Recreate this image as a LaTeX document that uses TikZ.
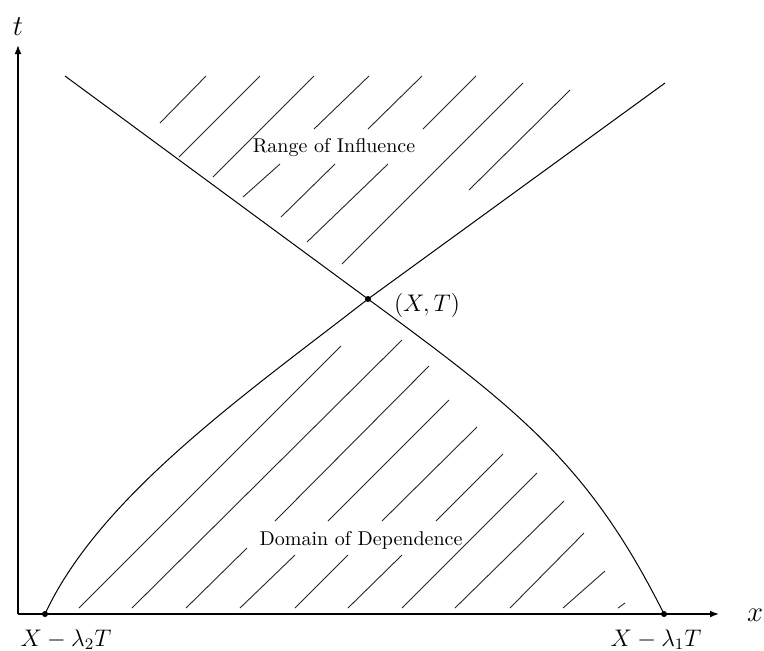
\documentclass[tikz,border=0pt]{standalone}
\usetikzlibrary{arrows.meta}
\begin{document}
\begin{tikzpicture}[x=0.5pt,y=-0.5pt,
  axis/.style={line width=0.65pt,-{Latex[length=4.5pt,width=3.4pt]}},
  bound/.style={line width=0.5pt},
  hatchline/.style={line width=0.45pt,black!85},
  dot/.style={circle,fill,inner sep=0pt,minimum size=3pt},
  mlabel/.style={font=\large,inner sep=0pt,anchor=base},
  axlabel/.style={font=\Large,inner sep=0pt,anchor=base},
  region/.style={inner sep=0pt,anchor=base}]
\useasboundingbox (0,0) rectangle (764,650);
% axes
\coordinate (O) at (18,614);
\coordinate (ytip) at (18,45);
\coordinate (xtip) at (719,614);
\draw[axis] (O) -- (ytip);
\draw[axis] (O) -- (xtip);
% characteristic boundaries
\coordinate (UL) at (65,76);
\coordinate (UR) at (665,83);
\node[dot] (A) at (45,614) {};
\node[dot] (B) at (664,614) {};
\node[dot] (P) at (368,299) {};
\draw[bound] (UL) -- (P.center) .. controls (518,409) and (589,464) .. (B.center);
\draw[bound] (A.center) .. controls (100,495) and (250,391) .. (P.center) -- (UR);
% hatching, range of influence
\foreach \a/\b/\c/\d in {160/123/206/76, 179/157/260/76, 213/177/314/76,
  243/197/280/164, 314/129/369/76, 281/217/335/164, 368/129/422/76,
  423/129/476/76, 307/242/388/164, 342/264/523/83, 469/190/570/90}
  \draw[hatchline] (\a,\b) -- (\c,\d);
% hatching, domain of dependence
\foreach \a/\b/\c/\d in {79/608/341/346, 132/608/402/340, 186/608/247/548,
  240/608/295/555, 295/608/348/555, 348/608/402/555, 275/521/429/366,
  328/521/449/400, 382/521/477/427, 436/521/503/454, 402/608/537/473,
  455/608/564/501, 510/608/584/533, 563/608/605/571, 618/608/625/603}
  \draw[hatchline] (\a,\b) -- (\c,\d);
% labels
\node[axlabel] (tl) at (18,35) {$t$};
\node[axlabel] (xl) at (755,621) {$x$};
\node[mlabel] (pl) at (427,311) {$(X,T)$};
\node[mlabel] (al) at (66,646) {$X-\lambda_2T$};
\node[mlabel] (bl) at (656,646) {$X-\lambda_1T$};
\node[region] (roi) at (334,152) {Range of Influence};
\node[region] (dod) at (361,545) {Domain of Dependence};
\end{tikzpicture}
\end{document}
